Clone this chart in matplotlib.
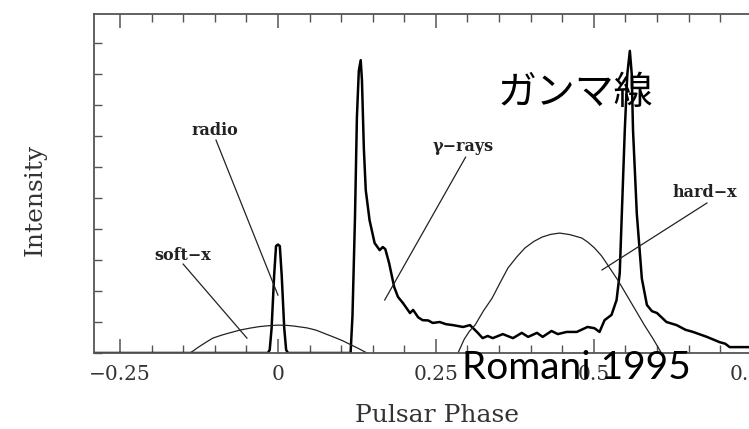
import matplotlib.pyplot as plt
from matplotlib.ticker import MultipleLocator

# main pulse profile (radio + gamma)
phase_main = [-0.2911, -0.016, -0.013, -0.010, -0.006, -0.003, 0.0, 0.003, 0.006, 0.010, 0.013, 0.016,
              0.115, 0.118, 0.122, 0.125, 0.128, 0.131, 0.133, 0.136, 0.139, 0.145, 0.153, 0.161, 0.166,
              0.170, 0.176, 0.184, 0.190, 0.198, 0.209, 0.214, 0.222, 0.229, 0.238, 0.245, 0.256, 0.266,
              0.277, 0.293, 0.304, 0.315, 0.324, 0.332, 0.340, 0.356, 0.372, 0.386, 0.396, 0.410, 0.419,
              0.433, 0.443, 0.457, 0.473, 0.490, 0.501, 0.509, 0.517, 0.528, 0.536, 0.541, 0.549, 0.553,
              0.557, 0.560, 0.562, 0.568, 0.576, 0.584, 0.592, 0.600, 0.615, 0.631, 0.645, 0.657, 0.679,
              0.699, 0.708, 0.715, 0.742, 0.763]
inten_main = [0, 0, 0.1, 0.8, 2.5, 3.45, 3.5, 3.45, 2.5, 0.8, 0.1, 0,
              0, 1.2, 4.4, 7.6, 9.1, 9.45, 8.8, 6.6, 5.26, 4.29, 3.55, 3.32, 3.42,
              3.35, 2.9, 2.13, 1.81, 1.61, 1.29, 1.39, 1.15, 1.06, 1.05, 0.97, 1.0, 0.93,
              0.9, 0.84, 0.9, 0.68, 0.48, 0.55, 0.48, 0.61, 0.48, 0.65, 0.52, 0.65, 0.52,
              0.71, 0.61, 0.68, 0.68, 0.84, 0.8, 0.68, 1.06, 1.23, 1.71, 2.58, 7.2, 9.0,
              9.75, 9.0, 7.2, 4.5, 2.4, 1.55, 1.35, 1.29, 1.0, 0.9, 0.75, 0.68, 0.52,
              0.35, 0.3, 0.19, 0.19, 0.19]

# soft-x hump
phase_soft = [-0.139, -0.125, -0.112, -0.103, -0.090, -0.080, -0.060, -0.045, -0.030, -0.015, 0.0,
              0.015, 0.025, 0.046, 0.060, 0.070, 0.080, 0.090, 0.102, 0.115, 0.128, 0.141]
inten_soft = [0, 0.2, 0.37, 0.48, 0.57, 0.63, 0.74, 0.8, 0.85, 0.88, 0.9,
              0.89, 0.87, 0.81, 0.74, 0.66, 0.58, 0.5, 0.4, 0.27, 0.14, 0]

# hard-x hump
phase_hard = [0.285, 0.295, 0.303, 0.312, 0.325, 0.339, 0.352, 0.364, 0.378, 0.391, 0.405, 0.418,
              0.432, 0.446, 0.462, 0.481, 0.491, 0.501, 0.512, 0.522, 0.538, 0.554, 0.567, 0.580,
              0.594, 0.607]
inten_hard = [0, 0.45, 0.7, 0.9, 1.35, 1.77, 2.28, 2.74, 3.1, 3.39, 3.6, 3.74,
              3.83, 3.87, 3.82, 3.71, 3.57, 3.39, 3.14, 2.84, 2.35, 1.8, 1.35, 0.9,
              0.45, 0]

# labels: text, text position, pointer line start, pointer line end
labels = ['radio', 'soft\u2212x', '\u03b3\u2212rays', 'hard\u2212x']
label_xy = [(-0.100, 7.19), (-0.150, 3.16), (0.293, 6.68), (0.675, 5.19)]
line_from = [(-0.098, 6.87), (-0.150, 2.87), (0.297, 6.32), (0.679, 4.84)]
line_to = [(0.0, 1.87), (-0.049, 0.48), (0.169, 1.71), (0.513, 2.68)]

xtick_vals = [-0.25, 0, 0.25, 0.5, 0.75]
xtick_labels = ['\u22120.25', '0', '0.25', '0.5', '0.75']

ink = '#222222'
fig = plt.figure(figsize=(7.49, 4.29), dpi=100)
ax = fig.add_axes([94 / 749, 1 - 353 / 429, (760 - 94) / 749, (353 - 14) / 429])

ax.plot(phase_main, inten_main, color='black', lw=1.8, solid_joinstyle='round')
ax.plot(phase_soft, inten_soft, color=ink, lw=0.9)
ax.plot(phase_hard, inten_hard, color=ink, lw=0.9)

for txt, xy, p0, p1 in zip(labels, label_xy, line_from, line_to):
    ax.text(xy[0], xy[1], txt, ha='center', va='center', fontsize=11.5, fontweight='bold',
            family='DejaVu Serif', color=ink)
    ax.plot([p0[0], p1[0]], [p0[1], p1[1]], color=ink, lw=0.9)

ax.set_xlim(-0.2911, 0.763)
ax.set_ylim(0, 10.94)

for side in ['top', 'bottom', 'left']:
    ax.spines[side].set_color('#555555')
    ax.spines[side].set_linewidth(1.3)
ax.spines['right'].set_visible(False)

ax.set_xticks(xtick_vals)
ax.set_xticklabels(xtick_labels, family='DejaVu Serif', fontsize=14.5, color='#333333')
ax.xaxis.set_minor_locator(MultipleLocator(0.05))
ax.tick_params(axis='x', which='major', direction='in', top=True, length=10, width=1.1,
               color='#555555', pad=9)
ax.tick_params(axis='x', which='minor', direction='in', top=True, length=5.5, width=1.0,
               color='#555555')
ax.yaxis.set_major_locator(MultipleLocator(1))
ax.tick_params(axis='y', which='major', direction='in', length=5.5, width=1.0,
               color='#555555', labelleft=False)

fig.text(35 / 749, 1 - 200 / 429, 'Intensity', rotation=90, ha='center', va='center',
         family='DejaVu Serif', fontsize=18, color='#333333')
fig.text(437 / 749, 1 - 415 / 429, 'Pulsar Phase', ha='center', va='center',
         family='DejaVu Serif', fontsize=18, color='#333333')

fig.text(575 / 749, 1 - 93 / 429, 'ガンマ線', ha='center', va='center',
         family=['Noto Sans CJK JP', 'DejaVu Sans'], fontsize=28, color='black')
fig.text(576 / 749, 1 - 368 / 429, 'Romani 1995', ha='center', va='center',
         family=['Lato', 'DejaVu Sans'], fontsize=28, color='black')

fig.savefig('out.png', dpi=100)
